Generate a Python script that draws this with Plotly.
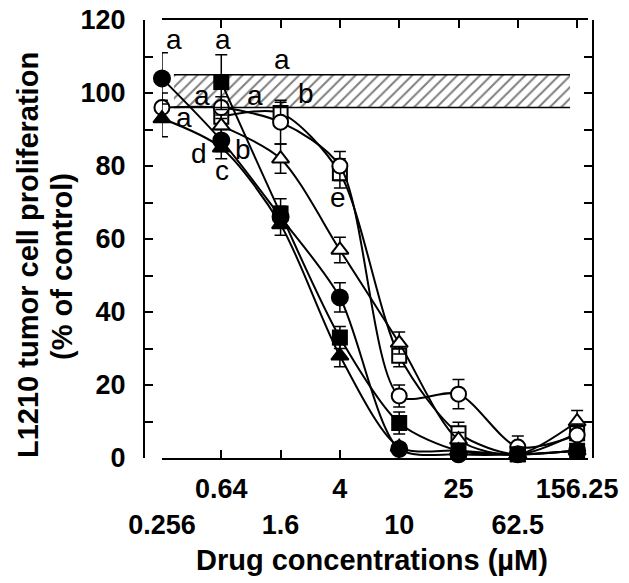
import numpy as np
import plotly.graph_objects as go

# ---------------- data ----------------
conc = [0.256, 0.64, 1.6, 4, 10, 25, 62.5, 156.25]
conc_labels = ["<br>0.256", "0.64", "<br>1.6", "4", "<br>10", "25", "<br>62.5", "156.25"]

filled_circle = [104, 87, 66, 44, 2.5, 1, 1, 2]
filled_circle_err = [7, 3, 3, 4, 1, 1, 1, 1]
open_circle = [96, 96, 92, 80, 17, 17.5, 3, 6.3]
open_circle_err = [4, 3, 6, 4, 3, 4, 3, 3]
filled_square = [None, 103, 67, 33, 9.6, 2, 1, 2]
filled_square_err = [None, 7.5, 4, 3, 3, 1, 1, 1]
open_square = [None, 93.5, 94.5, 78, 28, 6.8, 1, 6.8]
open_square_err = [None, 3, 3, 4, 3, 3, 1, 3]
filled_triangle = [93, 85, 64, 28, 3, 2, 1, 2]
filled_triangle_err = [5, 3, 3, 3, 1, 1, 1, 1]
open_triangle = [None, 91, 82, 57, 31.5, 5, 1, 10]
open_triangle_err = [None, 3, 4, 3.5, 3, 2, 1, 3]

# control band (% of control)
band_low, band_high = 96, 105
band_x = [0.308, 140]

# significance letters
letters = ["a", "a", "a", "a", "a", "b", "a", "a", "d", "b", "c", "e"]
letter_x = [0.308, 0.657, 1.635, 0.475, 1.078, 2.37, 0.360, 0.244, 0.453, 0.895, 0.647, 3.89]
letter_y = [114.7, 114.7, 109.2, 99.3, 99.3, 100, 93.3, 84.5, 83.3, 84.4, 78.8, 71.4]

y_ticks = list(range(0, 121, 10))
y_ticktext = [str(v) if v % 20 == 0 else "" for v in y_ticks]

FONT = "Liberation Sans, Arial, Helvetica, sans-serif"

fig = go.Figure()

# hatched control band
fig.add_trace(go.Scatter(
    x=[band_x[0], band_x[1], band_x[1], band_x[0], band_x[0]],
    y=[band_low, band_low, band_high, band_high, band_low],
    mode="lines", fill="toself", line=dict(width=0, color="black"),
    fillcolor="white",
    fillpattern=dict(shape="/", fgcolor="black", bgcolor="white", size=8, solidity=0.25),
    hoverinfo="skip", showlegend=False))
fig.add_trace(go.Scatter(
    x=[band_x[0], band_x[1], None, band_x[0], band_x[1]],
    y=[band_low, band_low, None, band_high, band_high],
    mode="lines", line=dict(width=1.5, color="black"),
    hoverinfo="skip", showlegend=False, yaxis="y2"))

series = [
    ("open square", open_square, open_square_err, "square", "white", 14),
    ("open triangle", open_triangle, open_triangle_err, "triangle-up", "white", 15),
    ("open circle", open_circle, open_circle_err, "circle", "white", 15),
    ("filled circle", filled_circle, filled_circle_err, "circle", "black", 16),
    ("filled triangle", filled_triangle, filled_triangle_err, "triangle-up", "black", 15),
    ("filled square", filled_square, filled_square_err, "square", "black", 14),
]

for name, ys, errs, sym, fill, size in series:
    fig.add_trace(go.Scatter(
        x=conc, y=ys, name=name, mode="lines+markers",
        line=dict(color="black", width=2, shape="spline", smoothing=0.8),
        marker=dict(symbol=sym, size=size, color=fill, line=dict(color="black", width=2)),
        error_y=dict(type="data", array=errs, visible=True, color="black", thickness=1.5, width=6),
        cliponaxis=False, connectgaps=False, showlegend=False))

for t, lx, ly in zip(letters, letter_x, letter_y):
    fig.add_annotation(x=np.log10(lx), y=ly, text=t, showarrow=False,
                       font=dict(family=FONT, size=28, color="black"),
                       xanchor="center", yanchor="middle")

# axis titles
fig.add_annotation(xref="paper", yref="paper", x=(28 - 144) / 449, y=(458 - 255) / 438,
                   text="<b>L1210 tumor cell proliferation</b>", textangle=-90, showarrow=False,
                   font=dict(family=FONT, size=29, color="black"), xanchor="center", yanchor="middle")
fig.add_annotation(xref="paper", yref="paper", x=(62 - 144) / 449, y=(458 - 267) / 438,
                   text="<b>(% of control)</b>", textangle=-90, showarrow=False,
                   font=dict(family=FONT, size=29, color="black"), xanchor="center", yanchor="middle")
fig.add_annotation(xref="paper", yref="paper", x=(372 - 144) / 449, y=(458 - 560) / 438,
                   text="<b>Drug concentrations (µM)</b>", showarrow=False,
                   font=dict(family=FONT, size=29, color="black"), xanchor="center", yanchor="middle")

tickfont = dict(family=FONT, size=27, color="black", weight="bold")

fig.update_layout(
    width=629, height=583,
    margin=dict(l=144, r=36, t=20, b=125, autoexpand=False),
    paper_bgcolor="white", plot_bgcolor="white",
    showlegend=False,
    xaxis=dict(type="log", range=[np.log10(0.256), 2.2672], domain=[0.04, 0.989],
               anchor="y", tickvals=conc, ticktext=conc_labels, tickangle=0,
               ticks="inside", ticklen=8, tickwidth=2, tickcolor="black",
               showline=True, linewidth=2, linecolor="black", mirror="ticks",
               showgrid=False, zeroline=False, tickfont=tickfont, ticklabelstandoff=6,
               ticklabeloverflow="allow", automargin=False),
    yaxis=dict(range=[0, 120], anchor="free", position=0, tickvals=y_ticks, ticktext=y_ticktext,
               ticks="inside", ticklen=8, tickwidth=2, tickcolor="black",
               showline=True, linewidth=2, linecolor="black",
               showgrid=False, zeroline=False, tickfont=tickfont, ticklabelstandoff=12,
               ticklabeloverflow="allow", automargin=False),
    yaxis2=dict(range=[0, 120], overlaying="y", side="right", anchor="free", position=1,
                tickvals=y_ticks, ticks="inside", ticklen=8, tickwidth=2, tickcolor="black",
                showticklabels=False, showline=True, linewidth=2, linecolor="black",
                showgrid=False, zeroline=False, automargin=False),
)

fig.write_html("out.html", config={"displayModeBar": False},
               post_script="document.body.style.margin='0';document.body.style.padding='0';")
